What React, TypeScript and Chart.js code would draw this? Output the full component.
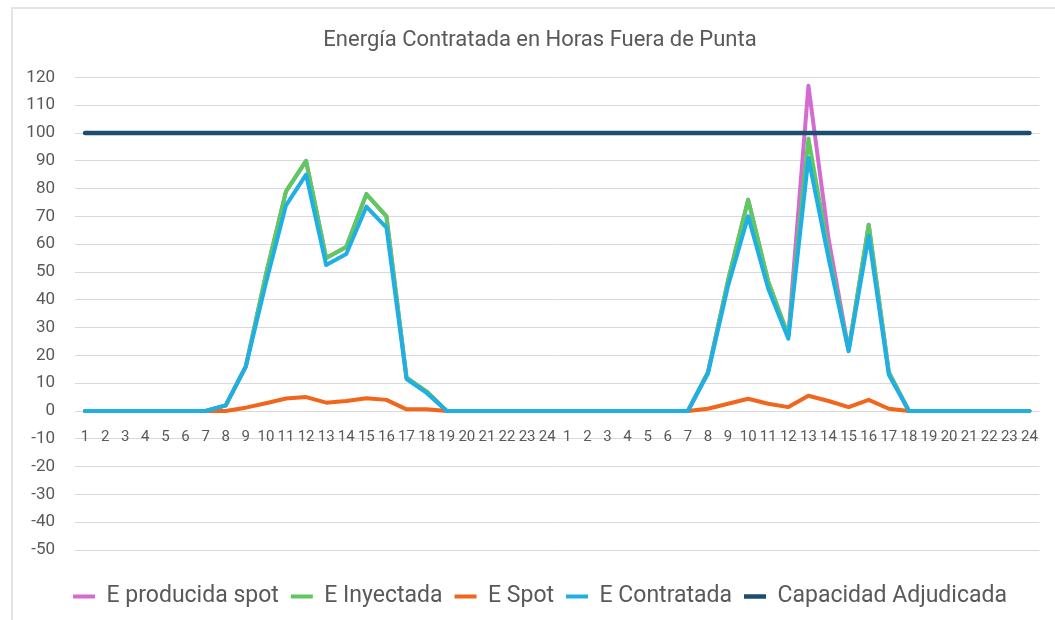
import { useEffect, useRef } from "react";
import { Chart, registerables } from "chart.js";

Chart.register(...registerables);

const horas = [
  "1", "2", "3", "4", "5", "6", "7", "8", "9", "10", "11", "12",
  "13", "14", "15", "16", "17", "18", "19", "20", "21", "22", "23", "24",
  "1", "2", "3", "4", "5", "6", "7", "8", "9", "10", "11", "12",
  "13", "14", "15", "16", "17", "18", "19", "20", "21", "22", "23", "24",
];

const eProducidaSpot = [
  0, 0, 0, 0, 0, 0, 0, 2, 16, 49, 79, 90, 55, 59, 78, 70, 12, 7, 0, 0, 0, 0, 0, 0,
  0, 0, 0, 0, 0, 0, 0, 14, 47, 76, 46.5, 27, 117, 62, 22, 67, 14, 0, 0, 0, 0, 0, 0, 0,
];

const eInyectada = [
  0, 0, 0, 0, 0, 0, 0, 2, 16, 49, 79, 90, 55, 59, 78, 70, 12, 7, 0, 0, 0, 0, 0, 0,
  0, 0, 0, 0, 0, 0, 0, 14, 47, 76, 46.5, 27, 98, 57, 22, 67, 14, 0, 0, 0, 0, 0, 0, 0,
];

const eSpot = [
  0, 0, 0, 0, 0, 0, 0, 0, 1.2, 2.8, 4.5, 5, 3, 3.6, 4.6, 4, 0.6, 0.6, 0, 0, 0, 0, 0, 0,
  0, 0, 0, 0, 0, 0, 0, 0.8, 2.6, 4.4, 2.6, 1.4, 5.5, 3.6, 1.4, 4, 0.8, 0, 0, 0, 0, 0, 0, 0,
];

const eContratada = [
  0, 0, 0, 0, 0, 0, 0, 2, 16, 46, 74, 85, 52.5, 56.5, 73.5, 66, 11.5, 6.5, 0, 0, 0, 0, 0, 0,
  0, 0, 0, 0, 0, 0, 0, 13.5, 45, 70, 44, 26, 91, 55, 21.5, 63, 13, 0, 0, 0, 0, 0, 0, 0,
];

const capacidadAdjudicada = [
  100, 100, 100, 100, 100, 100, 100, 100, 100, 100, 100, 100,
  100, 100, 100, 100, 100, 100, 100, 100, 100, 100, 100, 100,
  100, 100, 100, 100, 100, 100, 100, 100, 100, 100, 100, 100,
  100, 100, 100, 100, 100, 100, 100, 100, 100, 100, 100, 100,
];

const seriesNames = ["E producida spot", "E Inyectada", "E Spot", "E Contratada", "Capacidad Adjudicada"];
const seriesColors = ["#D36BD3", "#5DC95E", "#F0661C", "#1FAFE4", "#1B4E6E"];

const titulo = "Energía Contratada en Horas Fuera de Punta";

const FONT = "Roboto, 'Noto Sans', sans-serif";
const TEXT = "#595959";

// widen the y-axis label clip box to the canvas edge (labels sit inside the left padding)
const yLabelRoom = {
  id: "yLabelRoom",
  afterLayout(chart: any) {
    const y = chart.scales.y;
    if (y) y.left = 0;
  },
};

export default function App() {
  const canvasRef = useRef<HTMLCanvasElement | null>(null);

  useEffect(() => {
    document.body.style.margin = "0";
    const canvas = canvasRef.current;
    if (!canvas) return;
    const values = [eProducidaSpot, eInyectada, eSpot, eContratada, capacidadAdjudicada];
    const chart = new Chart(canvas, {
      type: "line",
      data: {
        labels: horas,
        datasets: values.map((v, i) => ({
          label: seriesNames[i],
          data: v,
          borderColor: seriesColors[i],
          backgroundColor: seriesColors[i],
          borderWidth: i === 4 ? 4.5 : 4,
          pointRadius: 0,
          pointHoverRadius: 0,
          tension: 0,
          borderJoinStyle: "round" as const,
          borderCapStyle: "round" as const,
          order: 5 - i,
          fill: false,
        })),
      },
      plugins: [yLabelRoom],
      options: {
        responsive: false,
        animation: false,
        devicePixelRatio: 1,
        layout: { padding: { left: 35, right: 10, top: 0, bottom: 2 } },
        plugins: {
          title: {
            display: true,
            text: titulo,
            color: TEXT,
            font: { family: FONT, size: 22, weight: "normal" },
            padding: { top: 27, bottom: 24 },
          },
          legend: {
            position: "bottom",
            title: {
              display: true,
              text: " ",
              font: { family: FONT, size: 1, lineHeight: 1 },
              padding: { top: 0, bottom: 22 },
            },
            labels: {
              usePointStyle: true,
              pointStyle: "line",
              pointStyleWidth: 22,
              color: TEXT,
              font: { family: FONT, size: 23 },
              padding: 12,
              sort: (a: any, b: any) => a.datasetIndex - b.datasetIndex,
            },
          },
          tooltip: { enabled: false },
        },
        scales: {
          x: {
            position: { y: 0 } as any,
            offset: true,
            grid: { display: false, drawTicks: false },
            border: { display: false },
            ticks: {
              autoSkip: false,
              maxRotation: 0,
              minRotation: 0,
              padding: 17,
              color: TEXT,
              font: { family: FONT, size: 15 },
            },
          },
          y: {
            min: -50,
            max: 120,
            grid: { color: "#D9D9D9", lineWidth: 1, drawTicks: false },
            border: { display: false },
            ticks: {
              stepSize: 10,
              padding: 20,
              color: TEXT,
              font: { family: FONT, size: 17 },
            },
            afterFit: (s: any) => {
              s.width = 40;
            },
          },
        },
      },
    });
    return () => chart.destroy();
  }, []);

  return (
    <div style={{ position: "relative", width: 1055, height: 620, overflow: "hidden", background: "#fff" }}>
      <div
        style={{
          position: "absolute",
          left: 11,
          top: 7,
          width: 1100,
          height: 700,
          border: "2px solid #E4E4E4",
        }}
      />
      <canvas ref={canvasRef} width={1055} height={620} style={{ position: "absolute", left: 0, top: 0 }} />
    </div>
  );
}
